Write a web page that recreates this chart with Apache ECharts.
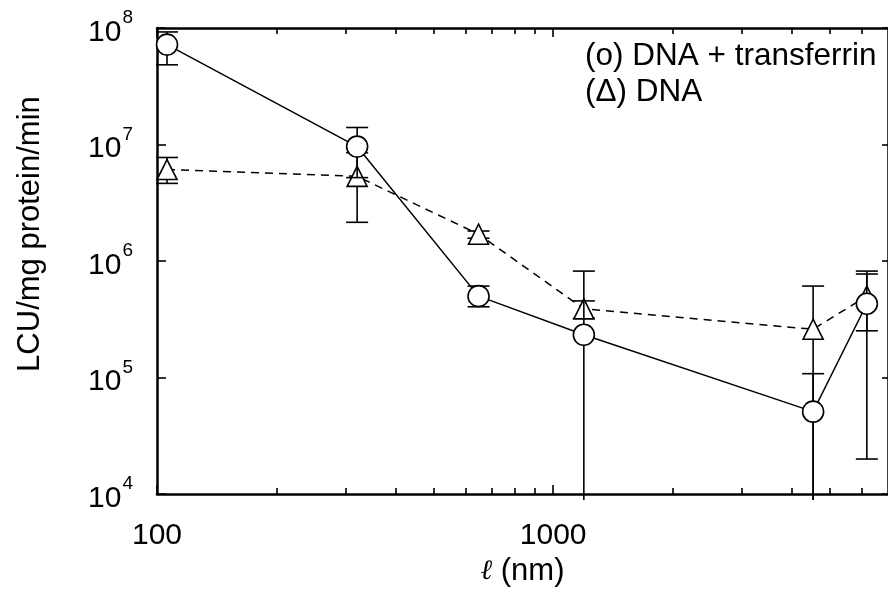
<!DOCTYPE html>
<html>
<head>
<meta charset="utf-8">
<script src="https://cdn.jsdelivr.net/npm/echarts@6/dist/echarts.min.js"></script>
<style>
  html, body { margin: 0; padding: 0; background: #fff; }
  #chart { width: 888px; height: 592px; }
</style>
</head>
<body>
<div id="chart"></div>
<script>
// ---- data ----
const lengthNm = [106, 320, 648, 1195, 4530, 6190];

const transferrinValues = [7.2e7, 9.6e6, 5.0e5, 2.33e5, 5.1e4, 4.3e5];
const transferrinHigh   = [9.25e7, 1.4e7, 6.1e5, 8.2e5, 1.08e5, 8.2e5];
const transferrinLow    = [4.83e7, 5.2e6, 4.05e5, 0, 0, 2.0e4];   // 0 = bar runs below axis

const dnaValues = [6.1e6, 5.33e6, 1.70e6, 3.89e5, 2.60e5, 5.0e5];
const dnaHigh   = [7.74e6, 8.5e6, 1.81e6, 4.55e5, 6.1e5, 7.74e5];
const dnaLow    = [4.64e6, 2.15e6, 1.57e6, 3.23e5, 0, 2.52e5];

const xMajorTicks = [100, 1000];
const xMinorTicks = [200, 300, 400, 500, 600, 700, 800, 900, 2000, 3000, 4000, 5000, 6000];
const yMajorTicks = [1e4, 1e5, 1e6, 1e7, 1e8];

const xMin = 100, xMax = 7000, yMin = 1e4, yMax = 1e8;

const legendLines = ['(o) DNA + transferrin', '(\u0394) DNA'];
const xTitleSymbol = '\u2113';
const xTitleUnit = ' (nm)';
const yTitle = 'LCU/mg protein/min';

// ---- chart ----
const FONT = '"Liberation Sans", Arial, Helvetica, sans-serif';
const chart = echarts.init(document.getElementById('chart'), null, { renderer: 'canvas' });

function xAxisDef(position, showLine, ticks, len, withLabels) {
  const ax = {
    type: 'log', logBase: 10, min: xMin, max: xMax, position: position, gridIndex: 0,
    axisLine: { show: showLine, onZero: false, lineStyle: { color: '#000', width: 2.5 } },
    axisTick: { show: true, inside: true, length: len, customValues: ticks,
                lineStyle: { color: '#000', width: 1.6 } },
    axisLabel: { show: false },
    splitLine: { show: false },
    minorTick: { show: false }
  };
  if (withLabels) {
    ax.axisLabel = { show: true, customValues: xMajorTicks, fontSize: 30, color: '#000',
                     fontFamily: FONT, margin: 27,
                     formatter: function (v) { return String(Math.round(v)); } };
    ax.name = '{l|' + xTitleSymbol + '}{u|' + xTitleUnit + '}';
    ax.nameLocation = 'middle';
    ax.nameGap = 61;
    ax.nameTextStyle = {
      fontSize: 31, color: '#000', fontFamily: FONT,
      rich: {
        l: { fontSize: 28, fontFamily: '"DejaVu Serif", serif', fontStyle: 'italic', color: '#000' },
        u: { fontSize: 31, fontFamily: FONT, color: '#000' }
      }
    };
  }
  return ax;
}

function errorBars(name, lows, highs, z) {
  return {
    type: 'custom', name: name, z: z, silent: true, clip: false,
    xAxisIndex: 0, yAxisIndex: 0,
    encode: { x: 0, y: 2 },
    data: lengthNm.map((x, i) => [x, lows[i], highs[i]]),
    renderItem: function (params, api) {
      const x = api.value(0), lo = api.value(1), hi = api.value(2);
      const top = api.coord([x, hi]);
      const axisBottom = api.coord([x, yMin]);
      const bottom = lo > 0 ? api.coord([x, lo]) : [top[0], axisBottom[1] + 6];
      const st = { stroke: '#000', lineWidth: 1.6 };
      const cap = 11;
      const children = [
        { type: 'line', shape: { x1: top[0], y1: top[1], x2: bottom[0], y2: bottom[1] }, style: st },
        { type: 'line', shape: { x1: top[0] - cap, y1: top[1], x2: top[0] + cap, y2: top[1] }, style: st }
      ];
      if (lo > 0) {
        children.push({ type: 'line', shape: { x1: bottom[0] - cap, y1: bottom[1], x2: bottom[0] + cap, y2: bottom[1] }, style: st });
      }
      return { type: 'group', children: children };
    }
  };
}

const option = {
  animation: false,
  backgroundColor: '#fff',
  title: {
    text: legendLines.join('\n'),
    left: 585, top: 38, padding: 0,
    textStyle: { fontSize: 31.5, fontWeight: 'normal', color: '#000', fontFamily: FONT, lineHeight: 36 }
  },
  grid: { left: 157, top: 28, width: 734, height: 468, containLabel: false },
  xAxis: [
    xAxisDef('bottom', true, xMajorTicks, 9, true),
    xAxisDef('bottom', false, xMinorTicks, 6, false),
    xAxisDef('top', true, xMajorTicks, 9, false),
    xAxisDef('top', false, xMinorTicks, 6, false)
  ],
  yAxis: [
    {
      type: 'log', logBase: 10, min: yMin, max: yMax, position: 'left',
      axisLine: { show: true, onZero: false, lineStyle: { color: '#000', width: 2.5 } },
      axisTick: { show: true, inside: true, length: 9, customValues: yMajorTicks,
                  lineStyle: { color: '#000', width: 1.6 } },
      axisLabel: {
        show: true, customValues: yMajorTicks, margin: 24, color: '#000',
        formatter: function (v) { return '{b|10}{s|' + Math.round(Math.log10(v)) + '}{h|\u200b}'; },
        rich: {
          b: { fontSize: 30, lineHeight: 30, fontFamily: FONT, color: '#000', verticalAlign: 'bottom' },
          s: { fontSize: 19, lineHeight: 30, fontFamily: FONT, color: '#000', verticalAlign: 'top', padding: [0, 0, 0, 1] },
          h: { fontSize: 1, lineHeight: 39, verticalAlign: 'middle' }
        }
      },
      splitLine: { show: false },
      name: yTitle, nameLocation: 'middle', nameRotate: 90, nameGap: 111,
      nameTextStyle: { fontSize: 31, color: '#000', fontFamily: FONT, padding: [0, 0, 0, 54] }
    },
    {
      type: 'log', logBase: 10, min: yMin, max: yMax, position: 'right',
      axisLine: { show: true, onZero: false, lineStyle: { color: '#000', width: 2.5 } },
      axisTick: { show: true, inside: true, length: 6, customValues: yMajorTicks,
                  lineStyle: { color: '#000', width: 1.6 } },
      axisLabel: { show: false },
      splitLine: { show: false }
    }
  ],
  series: [
    errorBars('DNA error', dnaLow, dnaHigh, 2),
    {
      type: 'line', name: 'DNA', z: 3, xAxisIndex: 0, yAxisIndex: 0,
      data: lengthNm.map((x, i) => [x, dnaValues[i]]),
      symbol: 'triangle', symbolSize: [20, 20], showAllSymbol: true,
      lineStyle: { color: '#000', width: 1.5, type: [8, 6] },
      itemStyle: { color: '#fff', borderColor: '#000', borderWidth: 1.6 },
      emphasis: { disabled: true }
    },
    errorBars('DNA + transferrin error', transferrinLow, transferrinHigh, 4),
    {
      type: 'line', name: 'DNA + transferrin', z: 5, xAxisIndex: 0, yAxisIndex: 0,
      data: lengthNm.map((x, i) => [x, transferrinValues[i]]),
      symbol: 'circle', symbolSize: 21, showAllSymbol: true,
      lineStyle: { color: '#000', width: 1.5, type: 'solid' },
      itemStyle: { color: '#fff', borderColor: '#000', borderWidth: 1.6 },
      emphasis: { disabled: true }
    }
  ]
};
chart.setOption(option);
</script>
</body>
</html>
